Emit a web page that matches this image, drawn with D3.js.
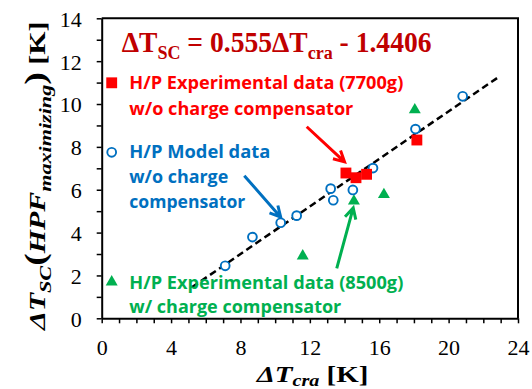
<!DOCTYPE html>
<html>
<head>
<meta charset="utf-8">
<script src="https://cdn.jsdelivr.net/npm/d3@7"></script>
<style>
  body { margin: 0; background: #fff; }
  svg { display: block; }
</style>
</head>
<body>
<div id="chart"></div>
<script>
// H/P model data w/o charge compensator
const modelX = [7.12, 8.69, 10.32, 11.24, 13.2, 13.35, 14.48, 15.64, 18.09, 20.81];
const modelY = [2.45, 3.79, 4.46, 4.79, 6.05, 5.51, 5.99, 7.01, 8.83, 10.36];
// H/P experimental data (7700g) w/o charge compensator
const exp7700X = [14.08, 14.66, 15.27, 18.17];
const exp7700Y = [6.78, 6.56, 6.72, 8.32];
// H/P experimental data (8500g) w/ charge compensator
const exp8500X = [18.05, 16.27, 14.54, 11.59];
const exp8500Y = [9.73, 5.77, 5.47, 2.91];
// fitted line
const fitSlope = 0.555;
const fitIntercept = -1.4406;
const fitRange = [5.2, 22.9];
// arrows (data units): [x1, y1, x2, y2]
const arrowRed = [11.82, 8.94, 14.0, 7.3];
const arrowBlue = [8.22, 6.65, 10.32, 4.72];
const arrowGreen = [13.55, 2.33, 14.5, 5.15];

const xTickLabels = [0, 4, 8, 12, 16, 20, 24];
const yTickLabels = [0, 2, 4, 6, 8, 10, 12, 14];

const W = 532, H = 389;
const RED = "#ff0000", BLUE = "#0070c0", GREEN = "#00b050", DARKRED = "#c00000";

const svg = d3.select("#chart").append("svg")
    .attr("width", W)
    .attr("height", H);

const x = d3.scaleLinear().domain([0, 24]).range([101.7, 518]);
const y = d3.scaleLinear().domain([0, 14]).range([318.3, 18.3]);

// axes
const xAxis = svg.append("g")
    .attr("transform", `translate(0,${y(0)})`)
    .call(d3.axisBottom(x)
        .tickValues(d3.range(0, 25, 1))
        .tickFormat(d => xTickLabels.includes(d) ? d : "")
        .tickSize(5).tickSizeOuter(0).tickPadding(16));

const yAxis = svg.append("g")
    .attr("transform", `translate(${x(0)},0)`)
    .call(d3.axisLeft(y)
        .tickValues(d3.range(0, 15, 1))
        .tickFormat(d => yTickLabels.includes(d) ? d : "")
        .tickSize(5).tickSizeOuter(0).tickPadding(15));

[xAxis, yAxis].forEach(g => {
    g.select(".domain").attr("stroke", "#000").attr("stroke-width", 2);
    g.selectAll(".tick line").attr("stroke", "#000").attr("stroke-width", 1.5);
    g.selectAll("text")
        .attr("fill", "#000")
        .style("font-family", "'Liberation Serif', 'Times New Roman', serif")
        .style("font-size", "22px");
});
yAxis.selectAll("text").attr("dy", "0.36em");

// top & right border
svg.append("path")
    .attr("d", `M${x(0)},${y(14)}H${x(24)}V${y(0)}`)
    .attr("fill", "none")
    .attr("stroke", "#000")
    .attr("stroke-width", 2);

// fit line
svg.append("line")
    .attr("x1", x(fitRange[0])).attr("y1", y(fitSlope * fitRange[0] + fitIntercept))
    .attr("x2", x(fitRange[1])).attr("y2", y(fitSlope * fitRange[1] + fitIntercept))
    .attr("stroke", "#000")
    .attr("stroke-width", 2.5)
    .attr("stroke-dasharray", "7,4");

// markers
const sq = d3.symbol().type(d3.symbolSquare).size(118);
const tri = d3.symbol().type(d3.symbolTriangle).size(62);

svg.append("g").selectAll("path")
    .data(d3.zip(exp8500X, exp8500Y))
    .enter().append("path")
    .attr("d", tri)
    .attr("transform", d => `translate(${x(d[0])},${y(d[1])})`)
    .attr("fill", GREEN);

svg.append("g").selectAll("circle")
    .data(d3.zip(modelX, modelY))
    .enter().append("circle")
    .attr("cx", d => x(d[0]))
    .attr("cy", d => y(d[1]))
    .attr("r", 4.4)
    .attr("fill", "#fff")
    .attr("stroke", BLUE)
    .attr("stroke-width", 1.9);

svg.append("g").selectAll("path")
    .data(d3.zip(exp7700X, exp7700Y))
    .enter().append("path")
    .attr("d", sq)
    .attr("transform", d => `translate(${x(d[0])},${y(d[1])})`)
    .attr("fill", RED);

// arrows
function arrow(a, color) {
    const x1 = x(a[0]), y1 = y(a[1]), x2 = x(a[2]), y2 = y(a[3]);
    const ang = Math.atan2(y2 - y1, x2 - x1);
    const L = 12, spread = Math.PI / 6.5;
    const hx1 = x2 - L * Math.cos(ang - spread), hy1 = y2 - L * Math.sin(ang - spread);
    const hx2 = x2 - L * Math.cos(ang + spread), hy2 = y2 - L * Math.sin(ang + spread);
    svg.append("path")
        .attr("d", `M${x1},${y1}L${x2},${y2}M${hx1},${hy1}L${x2},${y2}L${hx2},${hy2}`)
        .attr("fill", "none")
        .attr("stroke", color)
        .attr("stroke-width", 3)
        .attr("stroke-linecap", "butt")
        .attr("stroke-linejoin", "miter");
}
arrow(arrowRed, RED);
arrow(arrowBlue, BLUE);
arrow(arrowGreen, GREEN);

// legend-ish labels
const legendFont = "'Open Sans', 'Noto Sans', sans-serif";
function label(txt, lx, ly, width, color) {
    svg.append("text")
        .attr("x", lx).attr("y", ly)
        .attr("textLength", width)
        .attr("lengthAdjust", "spacingAndGlyphs")
        .attr("fill", color)
        .style("font-family", legendFont)
        .style("font-weight", 700)
        .style("font-size", "18px")
        .text(txt);
}
label("H/P Experimental data (7700g)", 129.3, 88.5, 274, RED);
label("w/o charge compensator", 129.3, 114.5, 224, RED);
label("H/P Model data", 129.3, 157.5, 141, BLUE);
label("w/o charge", 129.3, 183.3, 99, BLUE);
label("compensator", 129.3, 207.5, 116, BLUE);
label("H/P Experimental data (8500g)", 129.3, 288.5, 274, GREEN);
label("w/ charge compensator", 129.3, 313.3, 212, GREEN);

svg.append("path").attr("d", sq).attr("transform", "translate(111.7,82.8)").attr("fill", RED);
svg.append("circle").attr("cx", 111.7).attr("cy", 152.3).attr("r", 4.4)
    .attr("fill", "#fff").attr("stroke", BLUE).attr("stroke-width", 1.9);
svg.append("path").attr("d", tri).attr("transform", "translate(111.7,282)").attr("fill", GREEN);

// equation
const serif = "'Liberation Serif', 'Times New Roman', serif";
const eqG = svg.append("g");
const eq = eqG.append("text")
    .attr("fill", DARKRED)
    .style("font-family", serif)
    .style("font-weight", 700)
    .style("font-size", "29px");
eq.append("tspan").text("ΔT");
eq.append("tspan").attr("dy", 7).style("font-size", "19px").text("SC");
eq.append("tspan").attr("dy", -7).text(" = 0.555ΔT");
eq.append("tspan").attr("dy", 7).style("font-size", "19px").text("cra");
eq.append("tspan").attr("dy", -7).text(" - 1.4406");
const eqW = eq.node().getBBox().width;
eqG.attr("transform", `translate(121.7,52.3) scale(${310 / eqW},1)`);

// x axis title
const xt = svg.append("text")
    .attr("fill", "#000")
    .style("font-family", serif)
    .style("font-weight", 700)
    .style("font-size", "23px");
xt.append("tspan").style("font-style", "italic").text("ΔT");
xt.append("tspan").attr("dy", 4).style("font-style", "italic").style("font-size", "16px").text("cra");
xt.append("tspan").attr("dy", -4).text(" [K]");
const xtW = xt.node().getBBox().width;
xt.attr("transform", `translate(256.7,382) scale(${113 / xtW},1)`);

// y axis title
const ytG = svg.append("g");
const yt = ytG.append("text")
    .attr("fill", "#000")
    .style("font-family", serif)
    .style("font-weight", 700)
    .style("font-size", "23px");
yt.append("tspan").style("font-style", "italic").text("ΔT");
yt.append("tspan").attr("dy", 6).style("font-style", "italic").style("font-size", "17px").text("SC");
yt.append("tspan").attr("dy", -6).style("font-size", "29px").text("(");
yt.append("tspan").style("font-style", "italic").text("HPF");
yt.append("tspan").attr("dy", 6).style("font-style", "italic").style("font-size", "17px").text("maximizing");
yt.append("tspan").attr("dy", -6).style("font-size", "29px").text(")");
yt.append("tspan").text(" [K]");
const ytW = yt.node().getBBox().width;
ytG.attr("transform", `translate(45,330) rotate(-90) scale(${310 / ytW},1)`);
</script>
</body>
</html>
